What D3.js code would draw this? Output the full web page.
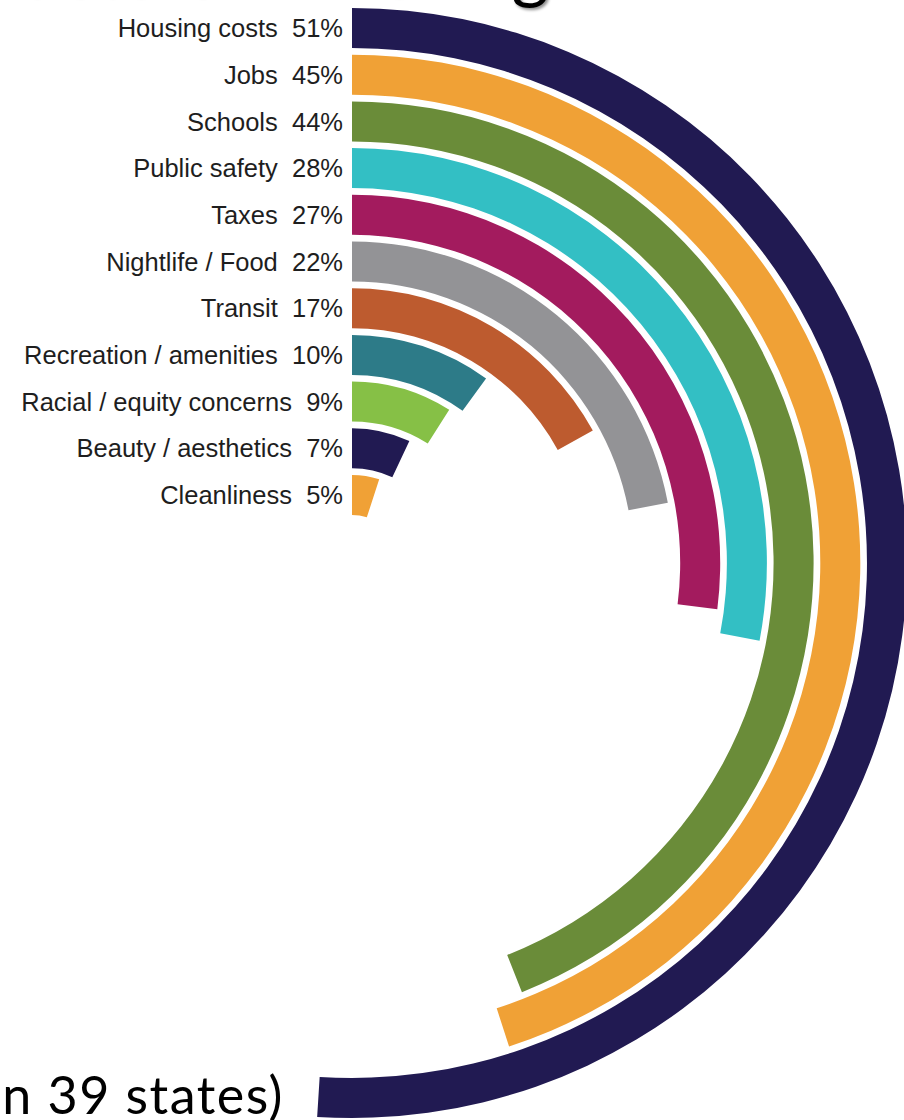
<!DOCTYPE html>
<html>
<head>
<meta charset="utf-8">
<script src="https://cdn.jsdelivr.net/npm/d3@7"></script>
<style>
  html, body { margin: 0; padding: 0; background: #fff; }
  svg { display: block; }
</style>
</head>
<body>
<svg id="chart" width="904" height="1120"></svg>
<script>
// Share of respondents naming each factor (percent)
const categories = [
  "Housing costs", "Jobs", "Schools", "Public safety", "Taxes",
  "Nightlife / Food", "Transit", "Recreation / amenities",
  "Racial / equity concerns", "Beauty / aesthetics", "Cleanliness"
];
const values = [51, 45, 44, 28, 27, 22, 17, 10, 9, 7, 5];
const colors = [
  "#211a52", "#f0a136", "#6a8c39", "#33bfc4", "#a31b5e",
  "#939396", "#bd5b2f", "#2d7b88", "#86c046", "#211a52", "#f0a136"
];

const width = 904, height = 1120;
const cx = 352, cy = 563;

const svg = d3.select("#chart");

// Slide title and footnote running off the edges
const shadow = svg.append("defs").append("filter").attr("id", "shadow")
  .attr("x", "-10%").attr("y", "-50%").attr("width", "120%").attr("height", "200%");
shadow.append("feDropShadow").attr("dx", 2).attr("dy", 2)
  .attr("stdDeviation", 1.5).attr("flood-color", "#000").attr("flood-opacity", 0.45);

svg.append("text")
  .attr("x", 549).attr("y", -5)
  .attr("text-anchor", "end")
  .attr("font-family", "Lato, 'Open Sans', sans-serif")
  .attr("font-size", 72)
  .attr("fill", "#000")
  .attr("filter", "url(#shadow)")
  .text("Factors in Moving");

svg.append("text")
  .attr("x", 284).attr("y", 1114)
  .attr("text-anchor", "end")
  .attr("font-family", "Lato, 'Open Sans', sans-serif")
  .attr("font-size", 52)
  .attr("letter-spacing", 1.5)
  .attr("fill", "#000")
  .text("(residents in 39 states)");

// Radial position: one ring per category, outermost first
const r = d3.scaleBand()
  .domain(categories)
  .range([555, 48])
  .paddingInner(0.143);

// Angle: 100% is a full turn, clockwise from 12 o'clock
const angle = d3.scaleLinear().domain([0, 100]).range([0, 2 * Math.PI]);

const arc = d3.arc()
  .innerRadius(d => r(d.name))
  .outerRadius(d => r(d.name) + r.bandwidth())
  .startAngle(0)
  .endAngle(d => angle(d.value));

const data = categories.map((name, i) => ({ name, value: values[i], color: colors[i] }));

const g = svg.append("g").attr("transform", `translate(${cx},${cy})`);

g.selectAll("path.bar")
  .data(data)
  .join("path")
  .attr("class", "bar")
  .attr("d", arc)
  .attr("fill", d => d.color);

// Labels sit to the left of each ring's starting edge
g.selectAll("text.label")
  .data(data)
  .join("text")
  .attr("class", "label")
  .attr("x", -9)
  .attr("y", d => -(r(d.name) + r.bandwidth() / 2))
  .attr("dy", "0.36em")
  .attr("text-anchor", "end")
  .attr("font-family", "'Liberation Sans', Arial, sans-serif")
  .attr("font-size", 25.5)
  .attr("fill", "#1e1e1e")
  .attr("xml:space", "preserve")
  .style("white-space", "pre")
  .text(d => `${d.name}  ${d.value}%`);
</script>
</body>
</html>
